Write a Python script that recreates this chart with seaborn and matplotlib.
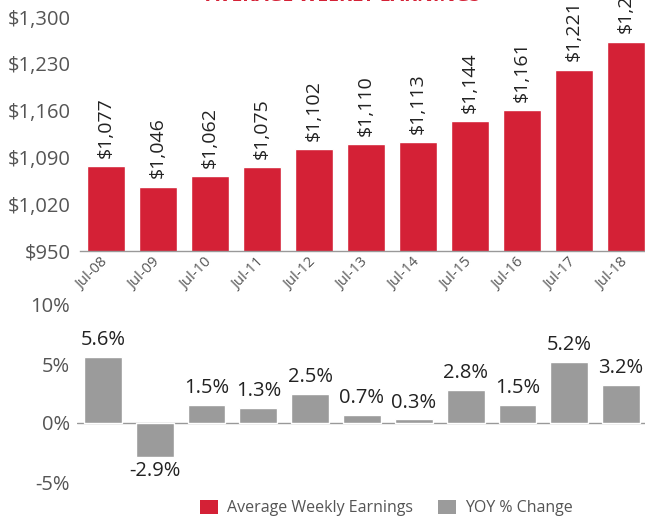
import matplotlib
matplotlib.use("Agg")
import matplotlib.pyplot as plt
import seaborn as sns
import pandas as pd
from matplotlib.patches import Patch

# --- Data ---
periods = ["Jul-08", "Jul-09", "Jul-10", "Jul-11", "Jul-12", "Jul-13",
           "Jul-14", "Jul-15", "Jul-16", "Jul-17", "Jul-18"]
weekly_earnings = [1077, 1046, 1062, 1075, 1102, 1110, 1113, 1144, 1161, 1221, 1263]
yoy_change = [5.6, -2.9, 1.5, 1.3, 2.5, 0.7, 0.3, 2.8, 1.5, 5.2, 3.2]
earn_ticks = [950, 1020, 1090, 1160, 1230, 1300]
yoy_ticks = [-5, 0, 5, 10]

RED = "#D42136"
GRAY = "#9B9B9B"
TXT = "#555555"
DARK = "#222222"

sns.set_theme(style="white")
plt.rcParams["font.family"] = ["Open Sans", "DejaVu Sans"]

df = pd.DataFrame({"period": periods, "earnings": weekly_earnings, "yoy": yoy_change})

fig = plt.figure(figsize=(6.45, 5.19), dpi=100)
ax1 = fig.add_axes([80 / 645, 1 - 251 / 519, 572 / 645, 234 / 519])
ax2 = fig.add_axes([77 / 645, 1 - 482 / 519, 570 / 645, 177 / 519])

# top panel: weekly earnings
sns.barplot(data=df, x="period", y="earnings", color=RED, saturation=1,
            width=0.73, ax=ax1)
ax1.set_ylim(950, 1300)
ax1.set_xlim(-0.5, 10.5)
ax1.set_yticks(earn_ticks)
ax1.set_yticklabels([f"${v:,}" for v in earn_ticks], fontsize=14.5, color=TXT)
ax1.set_xlabel("")
ax1.set_ylabel("")
plt.setp(ax1.get_xticklabels(), rotation=45, ha="right", va="center",
         rotation_mode="anchor", fontsize=10.5, color=TXT)
ax1.tick_params(axis="x", length=0, pad=7)
ax1.tick_params(axis="y", length=0, pad=7)
for s in ["top", "right", "left"]:
    ax1.spines[s].set_visible(False)
ax1.spines["bottom"].set_color("#999999")
ax1.spines["bottom"].set_linewidth(1)
for i, v in enumerate(weekly_earnings):
    ax1.annotate(f"${v:,}", (i, v), xytext=(0, 6), textcoords="offset points",
                 rotation=90, ha="center", va="bottom", fontsize=14,
                 color=DARK, annotation_clip=False)

# bottom panel: YOY change
sns.barplot(data=df, x="period", y="yoy", color=GRAY, saturation=1,
            width=0.73, ax=ax2)
ax2.set_ylim(-5, 10)
ax2.set_xlim(-0.5, 10.5)
ax2.set_yticks(yoy_ticks)
ax2.set_yticklabels([f"{v}%" for v in yoy_ticks], fontsize=14.5, color=TXT)
ax2.set_xticks([])
ax2.set_xlabel("")
ax2.set_ylabel("")
ax2.tick_params(axis="y", length=0, pad=5)
for s in ["top", "right", "left", "bottom"]:
    ax2.spines[s].set_visible(False)
ax2.axhline(0, color="#999999", linewidth=1, zorder=0)
for i, v in enumerate(yoy_change):
    off = 5 if v >= 0 else -3
    ax2.annotate(f"{v}%", (i, v), xytext=(0, off), textcoords="offset points",
                 ha="center", va="bottom" if v >= 0 else "top", fontsize=14.5,
                 color=DARK)

# title, cut off at the top edge
fig.text(343 / 645, 1 - 1 / 519, "AVERAGE WEEKLY EARNINGS", color=RED,
         fontsize=14, fontweight="bold", ha="center", va="baseline")

handles = [Patch(facecolor=RED, edgecolor="none"), Patch(facecolor=GRAY, edgecolor="none")]
fig.legend(handles, ["Average Weekly Earnings", "YOY % Change"],
           loc="center", bbox_to_anchor=(386 / 645, 1 - 508 / 519), ncol=2,
           frameon=False, fontsize=11.5, labelcolor=TXT, handlelength=1.15,
           handleheight=1.0, columnspacing=1.55, handletextpad=0.55)

fig.savefig("out.png", dpi=100)
